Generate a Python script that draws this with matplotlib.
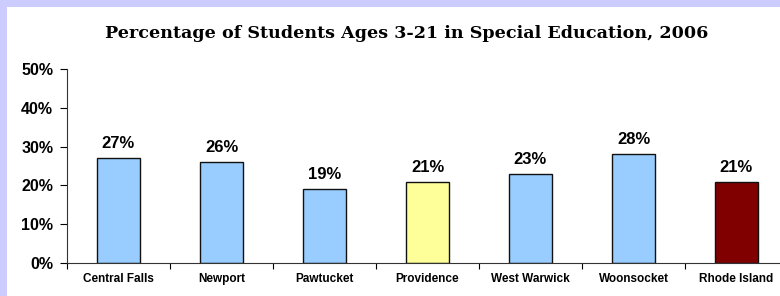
import matplotlib.pyplot as plt
from matplotlib.patches import Rectangle
from matplotlib.ticker import FixedLocator, PercentFormatter

communities = ['Central Falls', 'Newport', 'Pawtucket', 'Providence',
               'West Warwick', 'Woonsocket', 'Rhode Island']
pct = [27, 26, 19, 21, 23, 28, 21]
bar_colors = ['#99ccff', '#99ccff', '#99ccff', '#ffff99',
              '#99ccff', '#99ccff', '#800000']

fig = plt.figure(figsize=(7.8, 2.96), dpi=100)
fig.patch.set_facecolor('white')
# lavender frame on top and left
fig.patches.append(Rectangle((0, 0), 7 / 780, 1, transform=fig.transFigure,
                             facecolor='#ccccff', edgecolor='none', zorder=0))
fig.patches.append(Rectangle((0, 1 - 7 / 296), 1, 7 / 296, transform=fig.transFigure,
                             facecolor='#ccccff', edgecolor='none', zorder=0))

ax = fig.add_axes([67 / 780, 1 - 263 / 296, (780 - 67) / 780, (263 - 69) / 296])
x = range(len(communities))
ax.bar(x, pct, width=0.41, color=bar_colors, edgecolor='#111111', linewidth=1.0)

for i, v in enumerate(pct):
    ax.text(i, v + 1.8, f'{v}%', ha='center', va='bottom',
            fontsize=12, fontweight='bold', family='Liberation Sans')

ax.set_ylim(0, 50)
ax.set_xlim(-0.5, -0.5 + (780 - 67) / 103)
ax.set_yticks(range(0, 51, 10))
ax.yaxis.set_major_formatter(PercentFormatter(decimals=0))
ax.set_xticks(list(x))
ax.set_xticklabels(communities)
ax.xaxis.set_minor_locator(FixedLocator([i + 0.5 for i in range(-1, 7)]))
ax.tick_params(axis='x', which='major', length=0, pad=7, labelsize=8.5)
ax.tick_params(axis='x', which='minor', length=4, width=0.8, direction='out')
ax.tick_params(axis='y', length=5, width=0.8, pad=5, labelsize=11.5)
for lab in ax.get_xticklabels() + ax.get_yticklabels():
    lab.set_fontweight('bold')
    lab.set_family('Liberation Sans')

ax.spines['top'].set_visible(False)
ax.spines['right'].set_visible(False)
ax.spines['left'].set_color('#333333')
ax.spines['bottom'].set_color('#333333')

fig.text(407 / 780, 1 - 33 / 296,
         'Percentage of Students Ages 3-21 in Special Education, 2006',
         ha='center', va='center', fontsize=12.6, fontweight='bold',
         family='DejaVu Serif')

fig.savefig('out.png', dpi=100, facecolor='white')
